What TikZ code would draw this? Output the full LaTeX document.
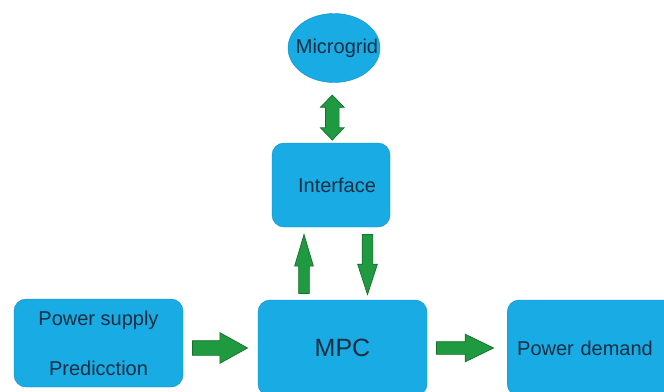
\documentclass[tikz,border=0pt]{standalone}
\usepackage{fontspec}
\setmainfont{Liberation Sans}
\usetikzlibrary{shapes.geometric,shapes.arrows,calc}
\definecolor{boxblue}{RGB}{24,171,228}
\definecolor{boxline}{RGB}{20,140,200}
\definecolor{arrowgreen}{RGB}{32,154,64}
\definecolor{arrowline}{RGB}{22,110,45}
\definecolor{labeltext}{RGB}{25,45,65}
\tikzset{
    block/.style={draw=boxline, fill=boxblue, rounded corners=12pt, text=labeltext,
        font=\fontsize{20}{24}\selectfont, inner sep=0pt},
    fatarrow/.style={draw=arrowline, fill=arrowgreen, line width=0.7pt},
}
\begin{document}
\begin{tikzpicture}[x=1pt,y=-1pt]
    \useasboundingbox (0,0) rectangle (664,391);
    \clip (0,0) rectangle (664,391);
    \fill[white] (0,0) rectangle (664,391);
    % blocks
    \node[block, ellipse, sharp corners, minimum width=92pt, minimum height=69pt] (microgrid) at (334,48) {\makebox[0pt]{\hspace*{6pt}Microgrid}};
    \node[block, minimum width=118pt, minimum height=84pt] (iface) at (331,185) {\hspace*{12pt}Interface};
    \node[block, minimum width=169pt, minimum height=96pt, font=\fontsize{25}{30}\selectfont] (mpc) at (342.5,348) {MPC};
    \node[block, minimum width=169pt, minimum height=88pt, align=center] (psp) at (98.5,343) {Power supply\\[26pt]Predicction};
    \node[block, anchor=west, minimum height=96pt, text width=170pt, inner xsep=10pt, align=left] (demand) at (507,348) {Power demand};
    % arrows
    \node[fatarrow, double arrow, rotate=90, minimum height=45pt, inner sep=6.5pt,
        double arrow head extend=5pt, double arrow tip angle=88] (link) at ($(microgrid.south)!0.58!(iface.north)$) {};
    \node[fatarrow, single arrow, rotate=90, anchor=tail, minimum height=59pt, inner sep=5pt,
        single arrow head extend=4pt, single arrow tip angle=33] (up) at ($(mpc.north)+(-38.5,-6)$) {};
    \node[fatarrow, single arrow, rotate=-90, anchor=tail, minimum height=60pt, inner sep=5pt,
        single arrow head extend=4.5pt, single arrow tip angle=36] (down) at ($(iface.south)+(36.5,7)$) {};
    \node[fatarrow, single arrow, anchor=tail, minimum height=55pt, inner sep=7pt,
        single arrow head extend=8pt, single arrow tip angle=58] (feed) at ($(psp.east)+(9,5)$) {};
    \node[fatarrow, single arrow, anchor=tail, minimum height=57pt, inner sep=6pt,
        single arrow head extend=7.5pt, single arrow tip angle=52] (out) at ($(mpc.east)+(9,0)$) {};
\end{tikzpicture}
\end{document}
